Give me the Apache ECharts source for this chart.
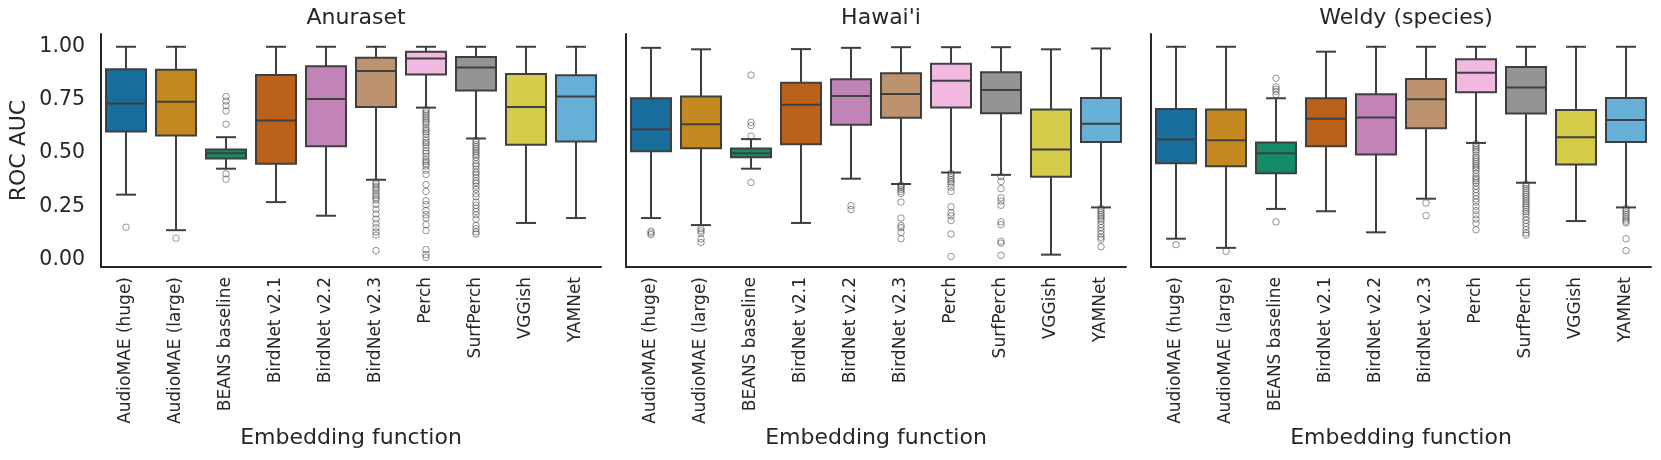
<!DOCTYPE html>
<html>
<head>
<meta charset="utf-8">
<script src="https://cdn.jsdelivr.net/npm/echarts@6/dist/echarts.min.js"></script>
<style>
html,body{margin:0;padding:0;background:#fff;}
#chart{width:1661px;height:460px;}
</style>
</head>
<body>
<div id="chart"></div>
<script>
const categories = ['AudioMAE (huge)', 'AudioMAE (large)', 'BEANS baseline', 'BirdNet v2.1', 'BirdNet v2.2', 'BirdNet v2.3', 'Perch', 'SurfPerch', 'VGGish', 'YAMNet'];
const panelTitles = ['Anuraset', "Hawai'i", 'Weldy (species)'];
const yTicks = [0, 0.25, 0.5, 0.75, 1.0];
const boxColors = ['#176d9c', '#c38820', '#168b6a', '#ba611b', '#c283b6', '#bd926e', '#f2b9e0', '#949494', '#d5cd4a', '#68afd7'];

// each row: [low whisker, Q1, median, Q3, high whisker]
const anurasetBoxes = [
  [0.305, 0.602, 0.733, 0.894, 1.00],
  [0.138, 0.583, 0.742, 0.892, 1.00],
  [0.427, 0.475, 0.500, 0.517, 0.575],
  [0.270, 0.450, 0.653, 0.867, 1.00],
  [0.206, 0.533, 0.755, 0.909, 1.00],
  [0.375, 0.717, 0.886, 0.948, 1.00],
  [0.714, 0.870, 0.945, 0.977, 1.00],
  [0.569, 0.795, 0.902, 0.952, 1.00],
  [0.172, 0.539, 0.717, 0.872, 1.00],
  [0.195, 0.555, 0.766, 0.866, 1.00]
];
const hawaiiBoxes = [
  [0.195, 0.509, 0.612, 0.758, 0.995],
  [0.162, 0.523, 0.636, 0.766, 0.988],
  [0.427, 0.481, 0.500, 0.522, 0.566],
  [0.172, 0.542, 0.727, 0.831, 0.989],
  [0.380, 0.633, 0.769, 0.847, 0.995],
  [0.355, 0.666, 0.778, 0.875, 0.998],
  [0.409, 0.714, 0.840, 0.920, 0.998],
  [0.398, 0.688, 0.797, 0.880, 0.998],
  [0.023, 0.389, 0.517, 0.705, 0.988],
  [0.245, 0.553, 0.638, 0.759, 0.992]
];
const weldyBoxes = [
  [0.098, 0.452, 0.564, 0.708, 1.00],
  [0.055, 0.439, 0.561, 0.705, 1.00],
  [0.238, 0.405, 0.500, 0.550, 0.758],
  [0.227, 0.533, 0.662, 0.758, 0.977],
  [0.128, 0.494, 0.667, 0.777, 1.00],
  [0.286, 0.617, 0.753, 0.848, 1.00],
  [0.548, 0.786, 0.878, 0.941, 1.00],
  [0.361, 0.686, 0.809, 0.905, 1.00],
  [0.181, 0.447, 0.575, 0.703, 1.00],
  [0.245, 0.552, 0.656, 0.759, 1.00]
];

// outliers per category
const anurasetOutliers = [
  [0.152],
  [0.100],
  [0.766, 0.745, 0.723, 0.698, 0.636, 0.403, 0.378],
  [],
  [],
  [0.365, 0.355, 0.345, 0.335, 0.325, 0.310, 0.300, 0.290, 0.280, 0.260, 0.235, 0.215, 0.190, 0.170, 0.150, 0.130, 0.115, 0.042],
  [0.705, 0.695, 0.685, 0.675, 0.665, 0.655, 0.645, 0.635, 0.620, 0.610, 0.600, 0.590, 0.575, 0.560, 0.550, 0.540, 0.525, 0.510, 0.500, 0.485, 0.470, 0.460, 0.450, 0.440, 0.420, 0.400, 0.352, 0.320, 0.276, 0.258, 0.230, 0.211, 0.195, 0.164, 0.136, 0.047, 0.023, 0.010],
  [0.560, 0.550, 0.540, 0.530, 0.520, 0.510, 0.500, 0.490, 0.480, 0.465, 0.450, 0.440, 0.425, 0.410, 0.400, 0.385, 0.370, 0.360, 0.345, 0.330, 0.310, 0.295, 0.270, 0.255, 0.240, 0.225, 0.210, 0.190, 0.160, 0.145, 0.130, 0.120],
  [],
  []
];
const hawaiiOutliers = [
  [0.133, 0.125, 0.117],
  [0.145, 0.135, 0.125, 0.097, 0.080],
  [0.867, 0.645, 0.630, 0.580, 0.362],
  [],
  [0.253, 0.235],
  [0.350, 0.345, 0.338, 0.330, 0.320, 0.310, 0.270, 0.195, 0.160, 0.150, 0.127, 0.098],
  [0.405, 0.395, 0.385, 0.375, 0.365, 0.355, 0.340, 0.320, 0.248, 0.219, 0.205, 0.183, 0.120, 0.014],
  [0.390, 0.367, 0.333, 0.290, 0.275, 0.255, 0.177, 0.164, 0.086, 0.077, 0.020],
  [],
  [0.240, 0.230, 0.220, 0.210, 0.200, 0.190, 0.180, 0.165, 0.150, 0.135, 0.120, 0.105, 0.095, 0.060]
];
const weldyOutliers = [
  [0.070],
  [0.039],
  [0.852, 0.812, 0.800, 0.790, 0.775, 0.177],
  [],
  [],
  [0.266, 0.206],
  [0.545, 0.535, 0.525, 0.515, 0.505, 0.490, 0.480, 0.470, 0.460, 0.450, 0.440, 0.430, 0.420, 0.405, 0.390, 0.380, 0.370, 0.360, 0.345, 0.330, 0.315, 0.300, 0.285, 0.270, 0.250, 0.230, 0.210, 0.190, 0.170, 0.140],
  [0.355, 0.345, 0.335, 0.325, 0.315, 0.305, 0.295, 0.285, 0.275, 0.265, 0.255, 0.245, 0.235, 0.225, 0.215, 0.200, 0.185, 0.170, 0.155, 0.140, 0.125, 0.115],
  [],
  [0.240, 0.230, 0.220, 0.210, 0.200, 0.190, 0.180, 0.172, 0.098, 0.042]
];

const allBoxes = [anurasetBoxes, hawaiiBoxes, weldyBoxes];
const allOutliers = [anurasetOutliers, hawaiiOutliers, weldyOutliers];

const chart = echarts.init(document.getElementById('chart'), null, {renderer: 'canvas'});
const TEXT = '#262626';
const EDGE = '#3f3f3f';
const FONT = 'DejaVu Sans';
const gridLefts = [101, 626, 1151];
const gridW = 500;
const gridTop = 34;
const gridH = 233;

function renderBox(params, api) {
  const i = api.value(0);
  const x = api.coord([i, api.value(3)])[0];
  const yLow = api.coord([i, api.value(1)])[1];
  const yQ1 = api.coord([i, api.value(2)])[1];
  const yMed = api.coord([i, api.value(3)])[1];
  const yQ3 = api.coord([i, api.value(4)])[1];
  const yHigh = api.coord([i, api.value(5)])[1];
  const bw = api.size([1, 0])[0];
  const half = bw * 0.4;
  const cap = bw * 0.2;
  const ls = {stroke: EDGE, lineWidth: 2, fill: null};
  return {
    type: 'group',
    children: [
      {type: 'line', shape: {x1: x, y1: yLow, x2: x, y2: yQ1}, style: ls},
      {type: 'line', shape: {x1: x, y1: yQ3, x2: x, y2: yHigh}, style: ls},
      {type: 'line', shape: {x1: x - cap, y1: yLow, x2: x + cap, y2: yLow}, style: ls},
      {type: 'line', shape: {x1: x - cap, y1: yHigh, x2: x + cap, y2: yHigh}, style: ls},
      {type: 'rect', shape: {x: x - half, y: yQ3, width: 2 * half, height: yQ1 - yQ3},
        style: {fill: boxColors[i], stroke: EDGE, lineWidth: 2}},
      {type: 'line', shape: {x1: x - half, y1: yMed, x2: x + half, y2: yMed}, style: ls}
    ]
  };
}

const grids = [], xAxes = [], yAxes = [], series = [], titles = [];
for (let p = 0; p < 3; p++) {
  grids.push({left: gridLefts[p], top: gridTop, width: gridW, height: gridH, containLabel: false});
  titles.push({
    text: panelTitles[p], left: gridLefts[p] + gridW / 2, top: 2, textAlign: 'center',
    textStyle: {fontFamily: FONT, fontSize: 22, fontWeight: 'normal', color: TEXT}
  });
  xAxes.push({
    type: 'category', gridIndex: p, data: categories, boundaryGap: true,
    axisLine: {show: true, onZero: false, lineStyle: {color: TEXT, width: 2}},
    axisTick: {show: false},
    axisLabel: {rotate: 90, interval: 0, margin: 10, fontFamily: FONT, fontSize: 17, color: TEXT},
    splitLine: {show: false},
    name: 'Embedding function', nameLocation: 'middle', nameGap: 171, nameMoveOverlap: false,
    nameTextStyle: {fontFamily: FONT, fontSize: 22, color: TEXT, verticalAlign: 'middle'}
  });
  yAxes.push({
    type: 'value', gridIndex: p, min: -0.035, max: 1.06,
    axisLine: {show: true, lineStyle: {color: TEXT, width: 2}},
    axisTick: {show: false},
    splitLine: {show: false},
    axisLabel: {
      show: p === 0, customValues: yTicks, margin: 16,
      fontFamily: FONT, fontSize: 20.5, color: TEXT,
      formatter: v => Number(v).toFixed(2)
    },
    name: p === 0 ? 'ROC AUC' : '', nameLocation: 'middle', nameGap: 82, nameRotate: 90,
    nameTextStyle: {fontFamily: FONT, fontSize: 22, color: TEXT, verticalAlign: 'middle'}
  });
  const boxData = allBoxes[p].map((b, i) => [i, b[0], b[1], b[2], b[3], b[4]]);
  series.push({
    type: 'custom', xAxisIndex: p, yAxisIndex: p, renderItem: renderBox,
    encode: {x: 0, y: [1, 2, 3, 4, 5]}, data: boxData, z: 2
  });
  const outData = [];
  allOutliers[p].forEach((arr, i) => arr.forEach(v => outData.push([i, v])));
  series.push({
    type: 'scatter', xAxisIndex: p, yAxisIndex: p, data: outData,
    symbol: 'circle', symbolSize: 6.5, z: 3,
    itemStyle: {color: 'rgba(255,255,255,0)', borderColor: 'rgba(63,63,63,0.7)', borderWidth: 1}
  });
}

chart.setOption({
  animation: false,
  backgroundColor: '#ffffff',
  title: titles,
  grid: grids,
  xAxis: xAxes,
  yAxis: yAxes,
  series: series
});
</script>
</body>
</html>
